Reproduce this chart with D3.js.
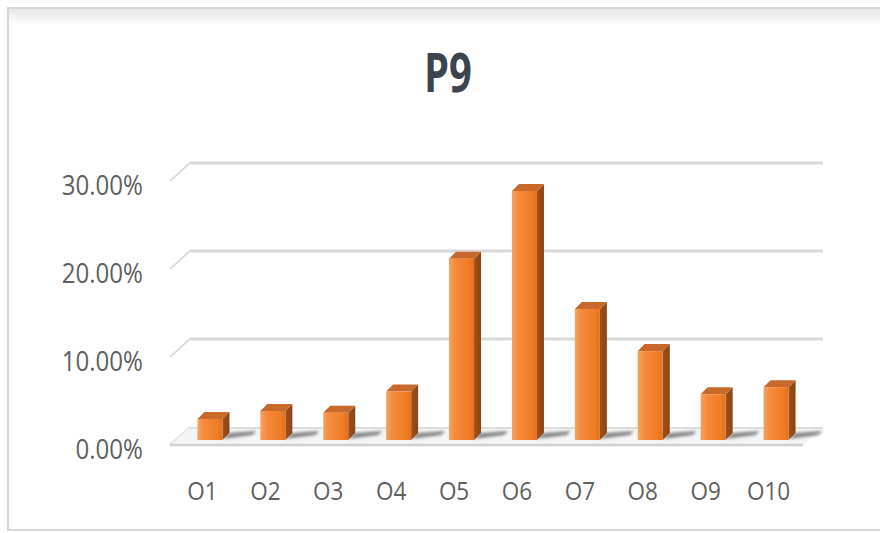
<!DOCTYPE html>
<html>
<head>
<meta charset="utf-8">
<script src="https://cdn.jsdelivr.net/npm/d3@7"></script>
<style>
  body { margin: 0; background: #fff; }
  #chart text { font-family: "Open Sans", "Noto Sans", sans-serif; }
</style>
</head>
<body>
<div id="chart"></div>
<script>
// data
var categories = ["O1", "O2", "O3", "O4", "O5", "O6", "O7", "O8", "O9", "O10"];
var values = [0.024, 0.033, 0.031, 0.055, 0.206, 0.283, 0.149, 0.101, 0.052, 0.060];
var yTicks = [0, 0.1, 0.2, 0.3];
var title = "P9";

var width = 880, height = 533;
var barW = 25, depth = 7;      // bar front width and 3d depth offset
var wallBack = 13;             // back wall sits this many px above the bar fronts
var wallX0 = 190, wallX1 = 823, sideDx = 20, sideDy = 18;

var svg = d3.select("#chart").append("svg")
    .attr("width", width)
    .attr("height", height);

var defs = svg.append("defs");
var gFront = defs.append("linearGradient").attr("id", "front")
    .attr("x1", "0").attr("x2", "1").attr("y1", "0").attr("y2", "0");
gFront.append("stop").attr("offset", "0%").attr("stop-color", "#f4a463");
gFront.append("stop").attr("offset", "25%").attr("stop-color", "#f48a3a");
gFront.append("stop").attr("offset", "80%").attr("stop-color", "#f07c26");
gFront.append("stop").attr("offset", "100%").attr("stop-color", "#e2701f");
var gSide = defs.append("linearGradient").attr("id", "side")
    .attr("x1", "0").attr("x2", "1").attr("y1", "0").attr("y2", "0");
gSide.append("stop").attr("offset", "0%").attr("stop-color", "#a0501c");
gSide.append("stop").attr("offset", "100%").attr("stop-color", "#8a4416");
var gFrame = defs.append("linearGradient").attr("id", "frameTop")
    .attr("x1", "0").attr("x2", "0").attr("y1", "0").attr("y2", "1");
gFrame.append("stop").attr("offset", "0%").attr("stop-color", "#e6e6e6");
gFrame.append("stop").attr("offset", "100%").attr("stop-color", "#ffffff");
defs.append("filter").attr("id", "blur")
    .attr("x", "-50%").attr("y", "-50%").attr("width", "200%").attr("height", "200%")
  .append("feGaussianBlur").attr("stdDeviation", 1.6);

// frame
svg.append("rect")
    .attr("x", 9).attr("y", 9).attr("width", width).attr("height", 16)
    .attr("fill", "url(#frameTop)");
svg.append("rect")
    .attr("x", 8).attr("y", 8).attr("width", width + 10).attr("height", 522)
    .attr("fill", "none").attr("stroke", "#d6d6d6").attr("stroke-width", 2);

// scales
var x = d3.scalePoint()
    .domain(categories)
    .range([178.5, 807.5])
    .padding(0.5);

var y = d3.scaleLinear()
    .domain([0, 0.3])
    .range([440, 176]);

// back wall gridlines + side wall diagonals
var grid = svg.append("g").attr("class", "grid");
grid.selectAll(".hline")
    .data(yTicks.slice(1))
    .enter().append("line")
    .attr("x1", wallX0).attr("x2", wallX1)
    .attr("y1", function(d) { return y(d) - wallBack; })
    .attr("y2", function(d) { return y(d) - wallBack; })
    .attr("stroke", "#d9d9d9").attr("stroke-width", 3);
grid.selectAll(".dline")
    .data(yTicks)
    .enter().append("line")
    .attr("x1", wallX0 - sideDx).attr("x2", wallX0)
    .attr("y1", function(d) { return y(d) - wallBack + sideDy; })
    .attr("y2", function(d) { return y(d) - wallBack; })
    .attr("stroke", "#dcdcdc").attr("stroke-width", 2);

// floor
var fy0 = y(0) - wallBack, fy1 = fy0 + sideDy;
svg.append("path")
    .attr("d", "M" + wallX0 + "," + fy0 + "L" + wallX1 + "," + fy0 +
               "L" + (wallX1 - sideDx) + "," + fy1 + "L" + (wallX0 - sideDx) + "," + fy1 + "Z")
    .attr("fill", "#f5f5f5");
svg.append("line")
    .attr("x1", wallX0 - sideDx).attr("x2", wallX1 - sideDx)
    .attr("y1", fy1).attr("y2", fy1)
    .attr("stroke", "#d0d0d0").attr("stroke-width", 2.5);
svg.append("line")
    .attr("x1", wallX0).attr("x2", wallX1)
    .attr("y1", fy0 + 1).attr("y2", fy0 + 1)
    .attr("stroke", "#dedede").attr("stroke-width", 2);

// bar shadows on the floor
svg.append("g").selectAll("path")
    .data(values)
    .enter().append("path")
    .attr("d", function(d, i) {
        var x0 = x(categories[i]) + barW / 2, b = y(0);
        return "M" + x0 + "," + (b - 1) + "L" + (x0 + 30) + "," + (b - 5) +
               "L" + (x0 + 34) + "," + (b - 9) + "L" + (x0 + depth) + "," + (b - depth) + "Z";
    })
    .attr("fill", "#555")
    .attr("opacity", 0.7)
    .attr("filter", "url(#blur)");

// bars
var bars = svg.append("g").selectAll("g")
    .data(values)
    .enter().append("g");

bars.append("path")   // side face
    .attr("d", function(d, i) {
        var x1 = x(categories[i]) + barW / 2, t = y(d), b = y(0);
        return "M" + x1 + "," + t + "L" + (x1 + depth) + "," + (t - depth) +
               "L" + (x1 + depth) + "," + (b - depth) + "L" + x1 + "," + b + "Z";
    })
    .attr("fill", "url(#side)");

bars.append("path")   // top face
    .attr("d", function(d, i) {
        var x0 = x(categories[i]) - barW / 2, t = y(d);
        return "M" + x0 + "," + t + "L" + (x0 + depth) + "," + (t - depth) +
               "L" + (x0 + barW + depth) + "," + (t - depth) + "L" + (x0 + barW) + "," + t + "Z";
    })
    .attr("fill", "#c8692b");

bars.append("rect")   // front face
    .attr("x", function(d, i) { return x(categories[i]) - barW / 2; })
    .attr("y", function(d) { return y(d); })
    .attr("width", barW)
    .attr("height", function(d) { return y(0) - y(d); })
    .attr("fill", "url(#front)");

// y axis labels
var yAxis = d3.axisLeft(y)
    .tickValues(yTicks)
    .tickFormat(d3.format(".2%"))
    .tickSize(0)
    .tickPadding(0);
var yg = svg.append("g")
    .attr("transform", "translate(143,8)")
    .call(yAxis);
yg.select(".domain").remove();
yg.selectAll("text")
    .attr("x", 0)
    .attr("dy", "10px")
    .attr("transform", "scale(0.86,1)")
    .style("font-size", "28px")
    .style("fill", "#606060");

// x axis labels
var xAxis = d3.axisBottom(x)
    .tickSize(0)
    .tickPadding(0);
var xg = svg.append("g")
    .attr("transform", "translate(-8,500)")
    .call(xAxis);
xg.select(".domain").remove();
xg.selectAll(".tick text")
    .attr("y", 0)
    .attr("dy", 0)
    .attr("transform", "scale(0.9,1)")
    .style("font-size", "25px")
    .style("fill", "#606060");

// title
svg.append("text")
    .attr("transform", "translate(448,92) scale(0.74,1)")
    .attr("text-anchor", "middle")
    .style("font-size", "54px")
    .style("font-weight", "bold")
    .style("fill", "#3c4450")
    .text(title);
</script>
</body>
</html>
